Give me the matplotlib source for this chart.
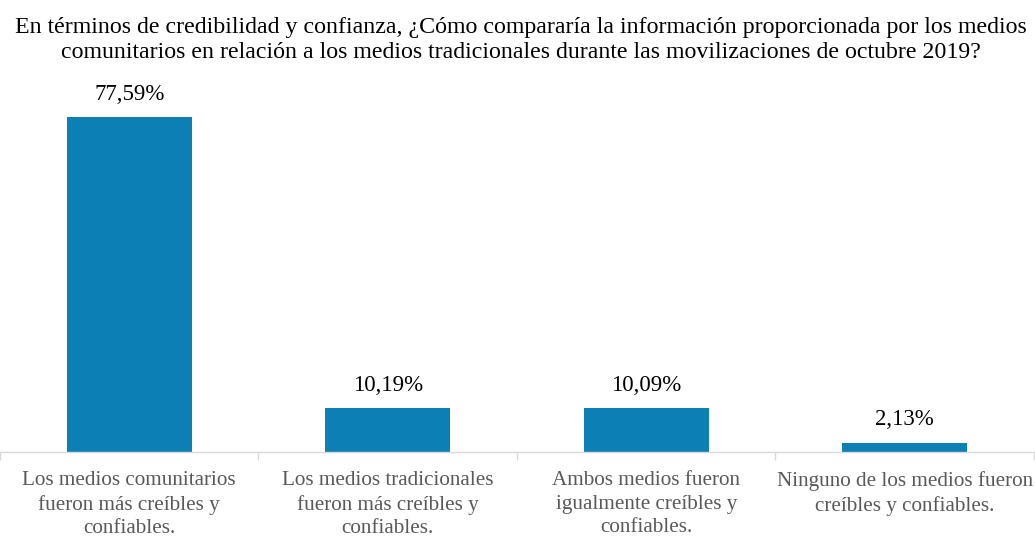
import matplotlib.pyplot as plt

categories = [
    'Los medios comunitarios\nfueron más creíbles y\nconfiables.',
    'Los medios tradicionales\nfueron más creíbles y\nconfiables.',
    'Ambos medios fueron\nigualmente creíbles y\nconfiables.',
    'Ninguno de los medios fueron\ncreíbles y confiables.',
]
values = [77.59, 10.19, 10.09, 2.13]
labels = ['77,59%', '10,19%', '10,09%', '2,13%']

title = ('En términos de credibilidad y confianza, ¿Cómo compararía la información proporcionada por los medios\n'
         'comunitarios en relación a los medios tradicionales durante las movilizaciones de octubre 2019?')

plt.rcParams['font.family'] = ['Liberation Serif', 'DejaVu Serif']

fig = plt.figure(figsize=(10.35, 5.38), dpi=100)
ax = fig.add_axes([0.0, 0.16, 0.999, 0.642])

x = list(range(len(values)))
bars = ax.bar(x, values, width=0.485, color='#0C7FB5')
ax.set_xlim(-0.5, len(values) - 0.5)
ax.set_ylim(0, 80)

for xi, v, lab in zip(x, values, labels):
    ax.text(xi, v + 4.0, lab, ha='center', va='baseline', fontsize=16.5, color='#000000')

# category labels centred, ticks at boundaries
ax.set_xticks(x)
ax.set_xticklabels(categories, fontsize=15.2, color='#595959', linespacing=1.3)
ax.tick_params(axis='x', which='major', length=0, pad=14)
ax.set_xticks([i - 0.5 for i in range(len(values) + 1)], minor=True)
ax.tick_params(axis='x', which='minor', length=6, color='#D9D9D9', width=1)

ax.set_yticks([])
for s in ['left', 'right', 'top']:
    ax.spines[s].set_visible(False)
ax.spines['bottom'].set_color('#D9D9D9')
ax.spines['bottom'].set_linewidth(1)

fig.text(0.503, 0.968, title, ha='center', va='top', fontsize=17.2, linespacing=1.25)

plt.savefig('out.png', dpi=100)
